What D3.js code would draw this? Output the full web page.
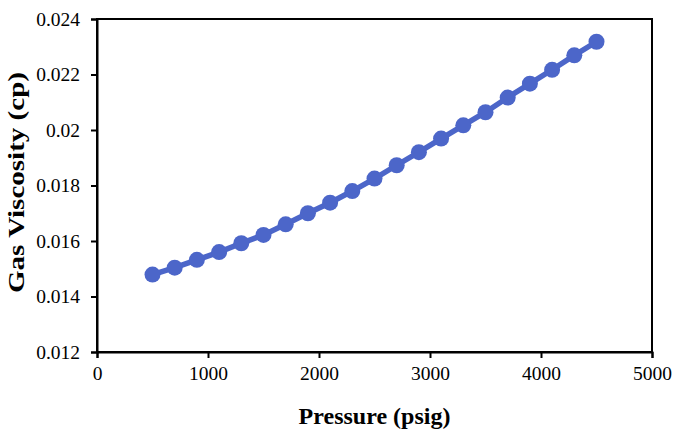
<!DOCTYPE html>
<html>
<head>
<meta charset="utf-8">
<script src="https://cdn.jsdelivr.net/npm/d3@7"></script>
<style>
  html, body { margin: 0; padding: 0; background: #fff; }
  svg { display: block; }
</style>
</head>
<body>
<svg id="chart" width="674" height="432"></svg>
<script>
// Data
const pressure = [500, 700, 900, 1100, 1300, 1500, 1700, 1900, 2100, 2300, 2500,
                  2700, 2900, 3100, 3300, 3500, 3700, 3900, 4100, 4300, 4500];
const viscosity = [0.01479, 0.01504, 0.01532, 0.01560, 0.01592, 0.01622, 0.01660,
                   0.01700, 0.01738, 0.01780, 0.01825, 0.01873, 0.01920, 0.01969,
                   0.02017, 0.02064, 0.02117, 0.02167, 0.02217, 0.02269, 0.02318];
const xTicks = [0, 1000, 2000, 3000, 4000, 5000];
const yTicks = [0.012, 0.014, 0.016, 0.018, 0.02, 0.022, 0.024];
const xTitle = "Pressure (psig)";
const yTitle = "Gas Viscosity (cp)";

const svg = d3.select("#chart");
const m = { left: 97, right: 22, top: 19, bottom: 80 };
const W = 674, H = 432;
const x = d3.scaleLinear().domain([0, 5000]).range([m.left, W - m.right]);
const y = d3.scaleLinear().domain([0.012, 0.024]).range([H - m.bottom, m.top]);

const font = "'Liberation Serif', 'Times New Roman', serif";

// frame
svg.append("rect")
  .attr("x", x(0)).attr("y", y(0.024))
  .attr("width", x(5000) - x(0)).attr("height", y(0.012) - y(0.024))
  .attr("fill", "none").attr("stroke", "#000").attr("stroke-width", 2);

const xAxis = svg.append("g")
  .attr("transform", `translate(0,${y(0.012)})`)
  .call(d3.axisBottom(x).tickValues(xTicks).tickFormat(d3.format("d")).tickSize(6).tickPadding(8));
const yAxis = svg.append("g")
  .attr("transform", `translate(${x(0)},0)`)
  .call(d3.axisLeft(y).tickValues(yTicks).tickFormat(d => String(+d.toFixed(3))).tickSize(6).tickPadding(11));

[xAxis, yAxis].forEach(g => {
  g.select(".domain").attr("stroke", "#000").attr("stroke-width", 2);
  g.selectAll(".tick line").attr("stroke", "#000").attr("stroke-width", 2);
  g.selectAll(".tick text").attr("fill", "#000")
    .style("font-family", font).style("font-size", "19.5px");
});

// line
const color = "#4C66C9";
svg.append("path")
  .datum(pressure.map((p, i) => [p, viscosity[i]]))
  .attr("fill", "none").attr("stroke", color).attr("stroke-width", 5.5)
  .attr("d", d3.line().x(d => x(d[0])).y(d => y(d[1])));

svg.append("g").selectAll("circle")
  .data(pressure.map((p, i) => [p, viscosity[i]]))
  .join("circle")
  .attr("cx", d => x(d[0])).attr("cy", d => y(d[1]))
  .attr("r", 8).attr("fill", color);

// titles
svg.append("text")
  .attr("x", (x(0) + x(5000)) / 2).attr("y", 424)
  .attr("text-anchor", "middle")
  .style("font-family", font).style("font-size", "24px").style("font-weight", "bold")
  .text(xTitle);

svg.append("text")
  .attr("transform", `translate(23.5,182.5) rotate(-90)`)
  .attr("text-anchor", "middle")
  .attr("textLength", 221).attr("lengthAdjust", "spacingAndGlyphs")
  .style("font-family", font).style("font-size", "24px").style("font-weight", "bold")
  .text(yTitle);
</script>
</body>
</html>
